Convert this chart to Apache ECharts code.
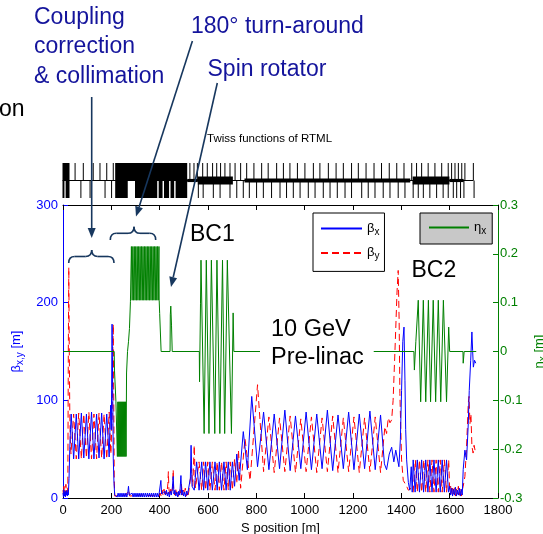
<!DOCTYPE html>
<html lang="en">
<head>
<meta charset="UTF-8">
<title>Twiss functions of RTML</title>
<script src="https://cdn.jsdelivr.net/npm/echarts@6.0.0/dist/echarts.min.js"></script>
<style>
    *{margin:0;padding:0;}
    html,body{width:100%;height:100%;overflow:hidden;background:#fff;}
    .container{width:543px;height:534px;}
</style>
</head>
<body>
<div class="container"></div>
<script>
    // beta_x [m] along s [m]
    let betaX=[
        [0,5],[2,1],[4,8],[6,2],[8,6],[10,1],[12,7],[14,3],[16,8],[18,2],[20,6],[22,3],
        [25,20],[28,50],[31,70],[34,86],[44,40],[55,86],[65,40],[76,87],[86,41],[97,86],[107,40],
        [118,88],[128,40],[139,86],[149,41],[160,87],[170,40],[181,86],[191,42],[197,95],[200,70],
        [203,178],[206,100],[208,40],[211,15],[214,3],
        [216,1],[220,5],[224,1],[228,5],[232,1],[236,5],[240,1],[244,5],[248,1],[252,5],[256,1],[260,5],
        [264,1],[268,5],[271,12],[274,3],[278,5],[282,1],[286,5],[290,1],[294,5],[298,1],[302,5],[306,1],
        [310,5],[314,1],[318,5],[322,1],[326,5],[330,1],[334,5],[338,1],[342,5],[346,1],[350,5],[354,1],
        [358,5],[362,1],[366,5],[370,1],[374,5],[378,1],[382,5],[386,1],[390,5],[394,1],[398,5],
        [402,3],[405,18],[408,4],[412,6],[416,2],[420,7],[424,3],[428,8],[432,2],[436,6],[440,1],[444,7],
        [448,3],[452,9],[456,22],[459,4],[463,8],[467,2],[471,6],[475,1],[479,7],[483,3],[488,23],[491,3],
        [495,8],[499,2],[503,6],[507,1],[511,7],[515,3],[519,5],[523,2],
        [527,20],[530,54],[534,12],[543,8],[553,37],[563,8],[574,37],[582,8],[590,37],[599,8],[608,37],
        [618,8],[629,37],[638,8],[647,37],[656,8],[666,37],[675,8],[684,37],[692,8],[701,37],
        [710,12],[719,45],[729,18],[746,68],[763,29],[781,104],[805,32],[830,88],[852,29],[874,86],
        [896,30],[918,90],[940,28],[962,84],[984,30],[1006,88],[1028,29],[1050,86],[1072,30],[1094,90],
        [1116,28],[1138,85],[1160,30],[1182,88],[1204,29],[1226,86],[1248,30],[1270,89],[1292,29],
        [1314,85],[1330,35],[1339,29],[1350,45],[1360,52],[1369,37],[1377,49],[1390,32],[1396,60],
        [1401,110],[1406,160],[1411,175],[1415,120],[1418,70],[1422,39],[1429,16],[1435,8],
        [1441,32],[1445,6],[1449,39],[1457,6],[1466,39],[1475,6],[1484,39],[1492,6],[1501,39],[1510,6],
        [1518,39],[1527,6],[1535,39],[1544,6],[1553,39],[1561,6],[1569,39],[1578,6],[1587,39],[1595,6],
        [1600,12],[1604,3],[1608,10],[1612,2],[1616,9],[1620,3],[1624,11],[1628,2],[1632,8],[1636,3],
        [1640,10],[1644,2],[1648,9],[1652,3],
        [1656,29],[1663,49],[1670,39],[1677,76],[1681,110],[1687,141],[1692,170],[1695,151],[1698,134],
        [1703,141],[1708,138]
    ];
    // beta_y [m] along s [m]
    let betaY=[
        [0,8],[2,3],[4,12],[6,2],[8,10],[10,4],[12,14],[14,3],[16,9],[18,5],[20,12],
        [22,150],[24,236],[26,150],[28,90],[30,60],[33,45],
        [44,86],[55,40],[65,87],[76,40],[86,86],[97,41],[107,88],[118,40],[128,86],[139,40],[149,87],
        [160,41],[170,86],[181,40],[191,88],[198,45],[203,80],[206,150],[208,178],[210,100],[212,20],[214,2],
        [220,2],[260,3],[272,8],[276,2],[320,3],[398,2],
        [402,5],[406,2],[410,8],[414,3],[418,9],[422,2],[426,7],[430,4],[434,15],[436,27],[438,10],
        [442,3],[446,9],[450,4],[454,12],[456,29],[458,8],[462,3],[466,10],[470,4],[474,8],[478,2],
        [482,9],[486,5],[490,14],[494,3],[498,8],[502,4],[506,10],[510,2],[514,7],[518,3],[522,9],
        [526,10],[532,30],[537,12],[543,54],[548,10],
        [553,8],[563,37],[574,8],[582,37],[590,8],[599,37],[608,8],[618,37],[629,8],[638,37],[647,8],
        [656,37],[666,8],[675,37],[684,8],[692,37],[701,8],[710,40],
        [719,15],[726,49],[735,10],[753,61],[774,18],[805,116],[830,27],[852,83],[874,26],[896,82],
        [918,27],[940,84],[962,26],[984,81],[1006,27],[1028,83],[1050,26],[1072,82],[1094,27],[1116,84],
        [1138,26],[1160,82],[1182,27],[1204,83],[1226,26],[1248,82],[1270,27],[1292,83],[1314,26],
        [1332,73],[1339,66],[1346,82],[1353,77],[1360,80],[1366,100],[1375,160],[1382,210],[1387,233],
        [1391,180],[1394,107],[1401,39],[1408,18],[1415,15],[1422,12],[1429,8],
        [1440,10],[1449,6],[1458,39],[1466,6],[1475,39],[1484,6],[1493,39],[1501,6],[1510,39],[1518,6],
        [1527,39],[1535,6],[1544,39],[1553,6],[1561,39],[1569,6],[1578,39],[1587,6],[1596,39],[1600,8],
        [1604,12],[1608,3],[1612,10],[1616,4],[1620,11],[1624,2],[1628,9],[1632,4],[1636,12],[1640,3],
        [1644,10],[1648,2],[1652,8],[1656,12],
        [1663,22],[1670,53],[1677,97],[1680,104],[1684,76],[1688,86],[1692,53],[1697,46],[1701,54],[1705,49]
    ];
    // eta_x [m] along s [m]
    let etaX=[
        [0,0],[212,0],[213,-0.038],[217,-0.038],[219,-0.103],[224,-0.103],
        [225,-0.215],[227,-0.103],[229,-0.215],[231,-0.103],[233,-0.215],[235,-0.103],[237,-0.215],
        [239,-0.103],[241,-0.215],[243,-0.103],[245,-0.215],[247,-0.103],[249,-0.215],[251,-0.103],
        [253,-0.215],[255,-0.103],[257,-0.215],[259,-0.103],[261,-0.215],
        [262,-0.215],[263,-0.044],[266,-0.044],[267,0],[270,0],[271,0.02],[274,0.02],[275,0.047],
        [278,0.047],[279,0.102],[282,0.102],
        [283,0.215],[286,0.105],[289,0.215],[292,0.105],[295,0.215],[298,0.105],[301,0.215],[304,0.105],
        [307,0.215],[310,0.105],[313,0.215],[316,0.105],[319,0.215],[322,0.105],[325,0.215],[328,0.105],
        [331,0.215],[334,0.105],[337,0.215],[340,0.105],[343,0.215],[346,0.105],[349,0.215],[352,0.105],
        [355,0.215],[358,0.105],[361,0.215],[364,0.105],[367,0.215],[370,0.105],[373,0.215],[376,0.105],
        [379,0.215],[382,0.105],[385,0.215],[388,0.105],[391,0.215],[394,0.105],[397,0.215],
        [398,0.105],[400,0.078],[404,0.078],[406,0],
        [443,0],[444,0.075],[446,0.093],[448,0.093],[449,0.054],[451,0.054],[452,0],
        [564,0],[565,-0.062],[567,-0.062],[569,0.099],[571,0.187],[574,0.187],[584,-0.168],[586,-0.168],
        [593,0.187],[595,0.187],[604,-0.168],[606,-0.168],[614,0.187],[616,0.187],[628,-0.168],[630,-0.168],
        [637,0.187],[639,0.187],[649,-0.168],[651,-0.168],[660,0.187],[662,0.187],[669,-0.168],[671,-0.168],
        [680,0.187],[682,0.187],[697,-0.168],[699,-0.168],[704,0.079],[706,0.079],[707,0],
        [1452,0],[1454,-0.038],[1457,-0.038],[1460,0.02],[1470,0.105],[1472,0.105],[1480,-0.103],
        [1482,-0.103],[1491,0.105],[1493,0.105],[1501,-0.103],[1503,-0.103],[1512,0.105],[1514,0.105],
        [1521,-0.103],[1523,-0.103],[1532,0.105],[1534,0.105],[1542,-0.103],[1544,-0.103],[1553,0.105],
        [1555,0.105],[1563,-0.103],[1565,-0.103],[1574,0.105],[1576,0.105],[1587,-0.103],[1589,-0.103],
        [1596,0.05],[1598,0.05],[1600,0],
        [1655,0],[1656,-0.024],[1659,-0.024],[1660,0],[1710,0]
    ];

    // lattice: element positions [m]
    let latticeUpperTicks=[50,84,125,153,181,208,525,542,556,578,597,619,636,652,670,691,712,735,760,790,
        822,849,884,912,939,970,1001,1036,1063,1098,1130,1160,1194,1222,1254,1287,1318,1350,1381,1411,
        1443,1463,1484,1511,1539,1567,1594,1608,1622,1636,1650,1663,1698];
    let latticeLowerTicks=[74,112,174,201,560,580,622,650,691,719,746,771,801,829,863,898,925,953,981,
        1015,1043,1077,1105,1135,1167,1194,1236,1263,1291,1325,1353,1387,1415,1449,1470,1491,1518,1546,
        1573,1594,1615,1629,1645,1659,1701];
    let latticeUpperBlocks=[[0,29],[218,516]];
    let latticeLowerBlocks=[[0,8],[13,29],[218,270],[300,392],[398,414],[420,441],[447,462],[468,516]];
    // [start, end, half height]
    let latticeBars=[[0,1700,0.03],[516,560,0.09],[560,705,0.23],[753,1439,0.115],[1449,1601,0.23],[1601,1660,0.09]];

    let xTicks=['0','200','400','600','800','1000','1200','1400','1600','1800'];

    let latticeItems=[];
    latticeUpperTicks.forEach(s=>latticeItems.push([s,s,0,1]));
    latticeLowerTicks.forEach(s=>latticeItems.push([s,s,-1,0]));
    latticeUpperBlocks.forEach(b=>latticeItems.push([b[0],b[1],0,1]));
    latticeLowerBlocks.forEach(b=>latticeItems.push([b[0],b[1],-1,0]));
    latticeBars.forEach(b=>latticeItems.push([b[0],b[1],-b[2],b[2]]));

    let font="'Liberation Sans', Arial, sans-serif";
    let annColor='#14149c';
    let arrowColor='#17375e';

    function arrow(x1,y1,x2,y2){
        let dx=x2-x1,dy=y2-y1,len=Math.sqrt(dx*dx+dy*dy);
        let ux=dx/len,uy=dy/len;
        let bx=x2-10*ux,by=y2-10*uy;
        return [
            {type:'line',z:100,shape:{x1:x1,y1:y1,x2:bx,y2:by},style:{stroke:arrowColor,lineWidth:1.6}},
            {type:'polygon',z:100,shape:{points:[[x2,y2],[bx-4*uy,by+4*ux],[bx+4*uy,by-4*ux]]},style:{fill:arrowColor}}
        ];
    }
    // curly brace opening downward: ends at yEnd, bar at yBar, tip at yTip
    function brace(xl,xr,xc,yEnd,yBar,yTip){
        let r=6;
        let st={stroke:arrowColor,fill:null,lineWidth:1.6};
        return [
            {type:'bezierCurve',z:100,shape:{x1:xl,y1:yEnd,x2:xl+r,y2:yBar,cpx1:xl,cpy1:yBar},style:st},
            {type:'line',z:100,shape:{x1:xl+r,y1:yBar,x2:xc-r,y2:yBar},style:st},
            {type:'bezierCurve',z:100,shape:{x1:xc-r,y1:yBar,x2:xc,y2:yTip,cpx1:xc,cpy1:yBar},style:st},
            {type:'bezierCurve',z:100,shape:{x1:xc,y1:yTip,x2:xc+r,y2:yBar,cpx1:xc,cpy1:yBar},style:st},
            {type:'line',z:100,shape:{x1:xc+r,y1:yBar,x2:xr-r,y2:yBar},style:st},
            {type:'bezierCurve',z:100,shape:{x1:xr-r,y1:yBar,x2:xr,y2:yEnd,cpx1:xr,cpy1:yBar},style:st}
        ];
    }
    function label(text,x,y,size,color,extra){
        let st=Object.assign({text:text,fill:color,font:size+'px '+font,verticalAlign:'top',lineHeight:Math.round(size*1.27)},extra||{});
        return {type:'text',z:100,x:x,y:y,style:st};
    }

    let container=document.querySelector('.container');
    let mycharts=echarts.init(container,null,{renderer:'canvas'});

    let elements=[].concat(
        arrow(91.7,97,91.7,238),
        arrow(192.4,41,136,216.5),
        arrow(217.3,83,171,287),
        brace(68.7,114,91.7,263,256.5,250),
        brace(110.3,155.7,134,240,233.3,226.7),
        [
            label('Coupling\ncorrection\n& collimation',34,3,23,annColor,{lineHeight:29.4}),
            label('180° turn-around',191,12,23,annColor),
            label('Spin rotator',207.5,55,23,annColor),
            label('on',-1,95,23,'#000'),
            label('BC1',190,220,23,'#000'),
            label('BC2',411.5,256,23,'#000'),
            label('10 GeV\nPre-linac',260,314,23.5,'#000',{lineHeight:28,backgroundColor:'#fff',padding:[2,10,2,11]})
        ]
    );

    let richSub={
        g:{fontSize:13,fontFamily:font,color:'#000'},
        s:{fontSize:10,fontFamily:font,color:'#000',padding:[7,0,0,0]}
    };

    let options={
        animation:false,
        backgroundColor:'#fff',
        title:{
            text:'Twiss functions of RTML',
            left:207,top:133,padding:0,
            textStyle:{fontSize:11.5,fontWeight:'normal',color:'#000',fontFamily:font}
        },
        grid:[
            {left:63,right:45,top:205,bottom:36,outerBoundsMode:'none'},
            {left:63,right:45,top:163,height:35,outerBoundsMode:'none'}
        ],
        legend:[
            {
                data:['bx','by'],orient:'vertical',left:313,top:213,
                padding:[9,5,10,7],itemGap:9.4,itemWidth:41,itemHeight:14,
                backgroundColor:'#fff',borderColor:'#000',borderWidth:1,borderRadius:0,
                selectedMode:false,
                itemStyle:{opacity:0,borderWidth:0},
                formatter:name=>({bx:'{g|β}{s|x}',by:'{g|β}{s|y}'})[name],
                textStyle:{rich:richSub}
            },
            {
                data:['ex'],orient:'vertical',left:420,top:213,
                padding:[8,6,8,8],itemWidth:40,itemHeight:14,
                backgroundColor:'#c8c8c8',borderColor:'#000',borderWidth:1,borderRadius:0,
                selectedMode:false,
                itemStyle:{opacity:0,borderWidth:0},
                formatter:()=>'{g|η}{s|x}',
                textStyle:{rich:richSub}
            }
        ],
        xAxis:[
            {
                gridIndex:0,type:'value',min:0,max:1800,interval:200,position:'bottom',
                name:'S position [m]',nameLocation:'middle',nameGap:20,
                nameTextStyle:{color:'#000',fontSize:13,fontFamily:font},
                axisLine:{onZero:false,lineStyle:{color:'#000',width:1}},
                axisTick:{inside:true,length:5,lineStyle:{color:'#000'}},
                axisLabel:{color:'#000',fontSize:13,fontFamily:font,margin:6,
                    formatter:(v)=>xTicks[Math.round(v/200)]},
                splitLine:{show:false}
            },
            {
                gridIndex:0,type:'value',min:0,max:1800,interval:200,position:'top',
                axisLine:{onZero:false,lineStyle:{color:'#000',width:1}},
                axisTick:{inside:true,length:5,lineStyle:{color:'#000'}},
                axisLabel:{show:false},splitLine:{show:false}
            },
            {
                gridIndex:1,type:'value',min:0,max:1800,show:false
            }
        ],
        yAxis:[
            {
                gridIndex:0,type:'value',min:0,max:300,interval:100,position:'left',
                name:'{g|β}{s|x,y}{g| [m]}',nameLocation:'middle',nameGap:31,nameRotate:90,
                nameTextStyle:{rich:{
                    g:{fontSize:13,fontFamily:font,color:'#0000ff'},
                    s:{fontSize:10,fontFamily:font,color:'#0000ff',padding:[7,0,0,0]}
                }},
                axisLine:{show:true,onZero:false,lineStyle:{color:'#0000ff',width:1}},
                axisTick:{show:true,inside:true,length:5,lineStyle:{color:'#0000ff'}},
                axisLabel:{color:'#0000ff',fontSize:13,fontFamily:font,margin:5},
                splitLine:{show:false}
            },
            {
                gridIndex:0,type:'value',min:-0.3,max:0.3,interval:0.1,position:'right',
                name:'{g|η}{s|x}{g| [m]}',nameLocation:'middle',nameGap:27,nameRotate:90,
                nameTextStyle:{rich:{
                    g:{fontSize:13,fontFamily:font,color:'#008000'},
                    s:{fontSize:10,fontFamily:font,color:'#008000',padding:[7,0,0,0]}
                }},
                axisLine:{show:true,onZero:false,lineStyle:{color:'#008000',width:1}},
                axisTick:{show:true,inside:true,length:5,lineStyle:{color:'#008000'}},
                axisLabel:{color:'#008000',fontSize:13,fontFamily:font,margin:2},
                splitLine:{show:false}
            },
            {
                gridIndex:1,type:'value',min:-1,max:1,show:false
            }
        ],
        series:[
            {
                name:'by',type:'line',xAxisIndex:0,yAxisIndex:0,data:betaY,
                symbol:'none',z:2,
                itemStyle:{color:'#ff0000'},
                lineStyle:{color:'#ff0000',width:1,type:[7,4]}
            },
            {
                name:'bx',type:'line',xAxisIndex:0,yAxisIndex:0,data:betaX,
                symbol:'none',z:3,
                itemStyle:{color:'#0000ff'},
                lineStyle:{color:'#0000ff',width:1}
            },
            {
                name:'ex',type:'line',xAxisIndex:0,yAxisIndex:1,data:etaX,
                symbol:'none',z:4,
                itemStyle:{color:'#008000'},
                lineStyle:{color:'#008000',width:1}
            },
            {
                name:'lattice',type:'custom',xAxisIndex:2,yAxisIndex:2,data:latticeItems,
                encode:{x:[0,1],y:[2,3]},
                renderItem:function(params,api){
                    let p0=api.coord([api.value(0),api.value(3)]);
                    let p1=api.coord([api.value(1),api.value(2)]);
                    return {
                        type:'rect',
                        shape:{x:p0[0]-0.5,y:p0[1],width:Math.max(p1[0]-p0[0],1),height:Math.max(p1[1]-p0[1],1)},
                        style:{fill:'#000'}
                    };
                }
            }
        ],
        graphic:{elements:elements}
    };

    mycharts.setOption(options);
</script>
</body>
</html>
